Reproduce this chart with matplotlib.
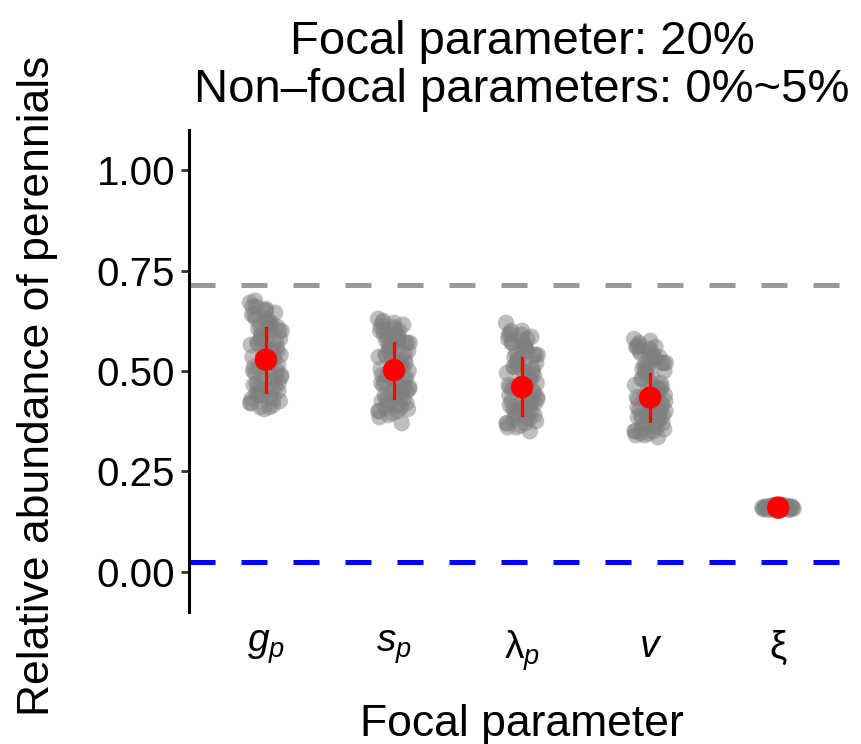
import numpy as np
import matplotlib
matplotlib.use('Agg')
from matplotlib import pyplot as plt

plt.rcParams['font.family'] = ['Liberation Sans', 'DejaVu Sans']
plt.rcParams['mathtext.fontset'] = 'custom'
plt.rcParams['mathtext.rm'] = 'Liberation Sans'
plt.rcParams['mathtext.it'] = 'Liberation Sans:italic'

# data
categories = [r'$g_p$', r'$s_p$', r'$\mathrm{\lambda}_p$', r'$v$', r'$\mathrm{\xi}$']

gp_vals = [0.67, 0.52, 0.44, 0.61, 0.48, 0.66, 0.55, 0.41, 0.58, 0.50, 0.63, 0.46, 0.54, 0.42,
           0.60, 0.57, 0.45, 0.65, 0.51, 0.43, 0.59, 0.49, 0.62, 0.47, 0.56, 0.405, 0.64, 0.53,
           0.44, 0.60, 0.52, 0.675, 0.48, 0.57, 0.42, 0.61, 0.46, 0.55, 0.63, 0.50, 0.415, 0.58,
           0.54, 0.45, 0.66, 0.49, 0.59, 0.43, 0.62, 0.51, 0.47, 0.56, 0.64, 0.53, 0.44, 0.60,
           0.41, 0.57, 0.50, 0.65, 0.535, 0.455, 0.615, 0.425, 0.585, 0.495, 0.645, 0.475, 0.565,
           0.435, 0.605, 0.515, 0.655, 0.465, 0.545, 0.595, 0.485, 0.625, 0.445, 0.575]
sp_vals = [0.63, 0.48, 0.41, 0.57, 0.45, 0.61, 0.52, 0.39, 0.55, 0.47, 0.60, 0.43, 0.50, 0.40,
           0.58, 0.54, 0.42, 0.62, 0.49, 0.37, 0.56, 0.46, 0.59, 0.44, 0.53, 0.395, 0.60, 0.51,
           0.42, 0.57, 0.48, 0.625, 0.45, 0.54, 0.40, 0.58, 0.43, 0.52, 0.61, 0.47, 0.41, 0.55,
           0.50, 0.44, 0.59, 0.46, 0.56, 0.385, 0.60, 0.49, 0.45, 0.53, 0.62, 0.51, 0.42, 0.57,
           0.40, 0.54, 0.48, 0.58, 0.505, 0.435, 0.585, 0.405, 0.555, 0.465, 0.615, 0.445, 0.535,
           0.415, 0.575, 0.485, 0.605, 0.425, 0.515, 0.565, 0.455, 0.595, 0.475, 0.545]
lp_vals = [0.62, 0.45, 0.38, 0.54, 0.42, 0.59, 0.49, 0.36, 0.52, 0.44, 0.57, 0.40, 0.47, 0.37,
           0.55, 0.51, 0.39, 0.60, 0.46, 0.35, 0.53, 0.43, 0.56, 0.41, 0.50, 0.365, 0.58, 0.48,
           0.39, 0.54, 0.45, 0.60, 0.42, 0.51, 0.37, 0.55, 0.40, 0.49, 0.59, 0.44, 0.38, 0.52,
           0.47, 0.41, 0.57, 0.43, 0.53, 0.36, 0.58, 0.46, 0.42, 0.50, 0.595, 0.48, 0.39, 0.54,
           0.37, 0.51, 0.45, 0.56, 0.465, 0.395, 0.545, 0.375, 0.515, 0.425, 0.585, 0.405, 0.495,
           0.385, 0.535, 0.445, 0.575, 0.415, 0.475, 0.525, 0.435, 0.565, 0.455, 0.505]
v_vals = [0.58, 0.42, 0.36, 0.52, 0.40, 0.56, 0.46, 0.34, 0.50, 0.41, 0.55, 0.38, 0.45, 0.35,
          0.53, 0.48, 0.37, 0.575, 0.43, 0.335, 0.51, 0.40, 0.54, 0.39, 0.47, 0.345, 0.56, 0.44,
          0.36, 0.52, 0.42, 0.57, 0.39, 0.49, 0.35, 0.53, 0.38, 0.46, 0.55, 0.41, 0.36, 0.50,
          0.44, 0.385, 0.545, 0.40, 0.51, 0.34, 0.56, 0.43, 0.39, 0.47, 0.565, 0.45, 0.37, 0.52,
          0.35, 0.48, 0.42, 0.54, 0.435, 0.375, 0.515, 0.355, 0.485, 0.405, 0.535, 0.395, 0.465,
          0.365, 0.505, 0.415, 0.555, 0.385, 0.445, 0.495, 0.425, 0.525, 0.345, 0.455]
xi_vals = [0.160, 0.158, 0.163, 0.155, 0.165, 0.161, 0.157, 0.166, 0.159, 0.162, 0.154, 0.164,
           0.160, 0.156, 0.167, 0.158, 0.161, 0.153, 0.163, 0.159, 0.165, 0.157, 0.162, 0.160,
           0.155, 0.164, 0.158, 0.161, 0.156, 0.163]
groups = [gp_vals, sp_vals, lp_vals, v_vals, xi_vals]

means = [0.528, 0.502, 0.460, 0.434, 0.160]
lower = [0.448, 0.432, 0.390, 0.376, 0.155]
upper = [0.606, 0.570, 0.532, 0.492, 0.165]

ref_high = 0.714
ref_low = 0.025

fig = plt.figure(figsize=(8.62, 7.44), dpi=100)
ax = fig.add_axes([0.2193, 0.1774, 0.7727, 0.6479])

for i, vals in enumerate(groups):
    n = len(vals)
    # deterministic jitter
    jit = ((np.arange(n) * 0.6180339887) % 1.0 - 0.5) * 0.25
    ax.scatter(i + 1 + jit, vals, s=140, color='#7f7f7f', alpha=0.5,
               edgecolors='none', zorder=2)

for i in range(len(means)):
    ax.plot([i + 1, i + 1], [lower[i], upper[i]], color='red', lw=2.3, zorder=3)
ax.scatter(np.arange(1, 6), means, s=260, color='red', edgecolors='none', zorder=4)

ax.axhline(ref_high, color='#999999', lw=3.6, dashes=(5.2, 5.2), zorder=1)
ax.axhline(ref_low, color='blue', lw=3.6, dashes=(5.2, 5.2), zorder=1)

ax.set_xlim(0.4, 5.6)
ax.set_ylim(-0.1, 1.1)
ax.set_yticks([0.0, 0.25, 0.5, 0.75, 1.0])
ax.set_yticklabels(['0.00', '0.25', '0.50', '0.75', '1.00'])
ax.set_xticks(np.arange(1, 6))
ax.set_xticklabels(categories)

for s in ['top', 'right', 'bottom']:
    ax.spines[s].set_visible(False)
ax.spines['left'].set_linewidth(2.2)
ax.tick_params(axis='y', labelsize=29, length=6, width=2, color='#333333', pad=4)
ax.tick_params(axis='x', labelsize=28, length=0, pad=12)

ax.set_xlabel('Focal parameter', fontsize=32, labelpad=22)
ax.set_ylabel('Relative abundance of perennials', fontsize=32)
ax.yaxis.set_label_coords(-0.197, 0.47)
ax.set_title('Focal parameter: 20%\nNon\u2013focal parameters: 0%~5%', fontsize=34,
             pad=20, linespacing=1.12)

fig.savefig('out.png', dpi=100)
